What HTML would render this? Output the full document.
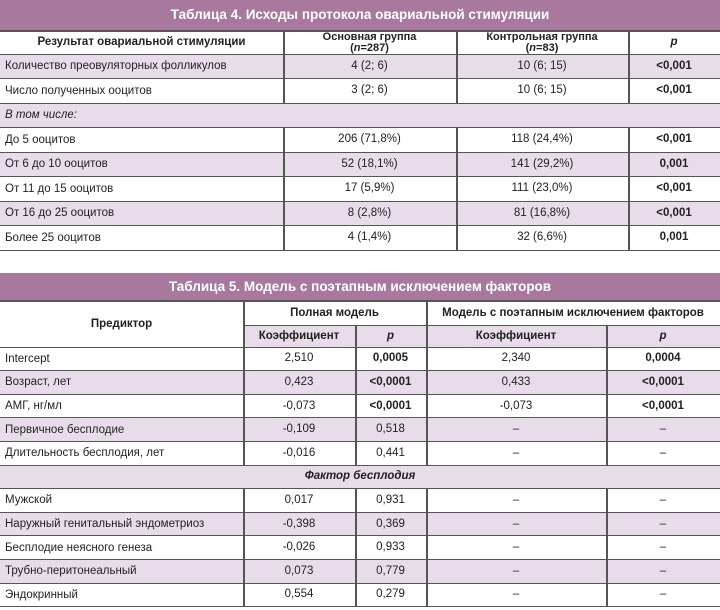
<!DOCTYPE html>
<html><head><meta charset="utf-8"><style>
body{margin:0;width:720px;height:610px;background:#fff;font-family:"Liberation Sans","DejaVu Sans",sans-serif;font-size:11.5px;color:#222;position:relative;overflow:hidden}
.a{position:absolute;box-sizing:border-box}
.band{background:#a8789f;color:#fff;font-weight:bold;font-size:13.5px;text-align:center;left:0;width:720px}
.c{display:flex;align-items:center;justify-content:center;text-align:center;line-height:1.1}
.l{display:flex;align-items:center;padding-left:5px}
.b{font-weight:bold}
.hd{font-size:11px;line-height:1.0}
.hl{position:absolute;left:0;width:720px;height:1px;background:#555}
.vl{position:absolute;width:1.5px;background:#555}
.lav{position:absolute;left:0;width:720px;background:#e8dcea}
</style></head><body>
<script>
function add(h){document.body.insertAdjacentHTML('beforeend',h)}
function cell(cls,l,w,t,h,txt){add('<div class="a c'+cls+'" style="left:'+l+'px;width:'+w+'px;top:'+t+'px;height:'+h+'px"><span>'+txt+'</span></div>')}
// ---- Table 4
add('<div class="a band" style="top:0;height:30px;line-height:30px">Таблица 4. Исходы протокола овариальной стимуляции</div>');
var x4=[0,283,456,628,720];
var top4=54,rh4=24.5;
var rows4=[["Количество преовуляторных фолликулов","4 (2; 6)","10 (6; 15)","<0,001"],
["Число полученных ооцитов","3 (2; 6)","10 (6; 15)","<0,001"],
["В том числе:"],
["До 5 ооцитов","206 (71,8%)","118 (24,4%)","<0,001"],
["От 6 до 10 ооцитов","52 (18,1%)","141 (29,2%)","0,001"],
["От 11 до 15 ооцитов","17 (5,9%)","111 (23,0%)","<0,001"],
["От 16 до 25 ооцитов","8 (2,8%)","81 (16,8%)","<0,001"],
["Более 25 ооцитов","4 (1,4%)","32 (6,6%)","0,001"]];
for(var i=0;i<8;i++){var y=top4+i*rh4;if(i%2==0)add('<div class="lav" style="top:'+y+'px;height:'+rh4+'px"></div>');}
cell(' b',0,283,31,23,'Результат овариальной стимуляции');
cell(' b hd',283,173,31,23,'Основная группа<br>(<i>n</i>=287)');
cell(' b hd',456,172,31,23,'Контрольная группа<br>(<i>n</i>=83)');
cell(' b',628,92,31,23,'<i>p</i>');
for(var i=0;i<8;i++){var y=top4+i*rh4,r=rows4[i];
 if(r.length==1){add('<div class="a l" style="left:0;top:'+y+'px;height:'+rh4+'px"><i>'+r[0]+'</i></div>');continue;}
 add('<div class="a l" style="left:0;top:'+y+'px;height:'+rh4+'px">'+r[0]+'</div>');
 for(var j=1;j<4;j++)cell(j==3?' b':'',x4[j],x4[j+1]-x4[j],y,rh4,r[j].replace('<','&lt;'));}
for(var i=0;i<=8;i++)add('<div class="hl" style="top:'+(top4+i*rh4-0.5)+'px"></div>');
add('<div class="hl" style="top:30px;height:2px"></div>');
for(var j=1;j<4;j++){
 add('<div class="vl" style="left:'+x4[j]+'px;top:30px;height:'+(top4+2*rh4-30)+'px"></div>');
 add('<div class="vl" style="left:'+x4[j]+'px;top:'+(top4+3*rh4)+'px;height:'+(5*rh4)+'px"></div>');}
// ---- Table 5
add('<div class="a band" style="top:273px;height:28px;line-height:28px">Таблица 5. Модель с поэтапным исключением факторов</div>');
var x5=[0,243,355,426,606,720];
var top5=347,rh5=23.6;
add('<div class="lav" style="top:325px;height:22px;left:243px;width:477px"></div>');
var rows5=[["Intercept","2,510","0,0005","2,340","0,0004"],
["Возраст, лет","0,423","<0,0001","0,433","<0,0001"],
["АМГ, нг/мл","-0,073","<0,0001","-0,073","<0,0001"],
["Первичное бесплодие","-0,109","0,518","–","–"],
["Длительность бесплодия, лет","-0,016","0,441","–","–"],
["Фактор бесплодия"],
["Мужской","0,017","0,931","–","–"],
["Наружный генитальный эндометриоз","-0,398","0,369","–","–"],
["Бесплодие неясного генеза","-0,026","0,933","–","–"],
["Трубно-перитонеальный","0,073","0,779","–","–"],
["Эндокринный","0,554","0,279","–","–"]];
for(var i=0;i<11;i++){var y=top5+i*rh5;if(i%2==1)add('<div class="lav" style="top:'+y+'px;height:'+rh5+'px"></div>');}
cell(' b',0,243,301,46,'Предиктор');
cell(' b',243,183,301,24,'Полная модель');
cell(' b',426,294,301,24,'Модель с поэтапным исключением факторов');
cell(' b',243,112,325,22,'Коэффициент');
cell(' b',355,71,325,22,'<i>p</i>');
cell(' b',426,180,325,22,'Коэффициент');
cell(' b',606,114,325,22,'<i>p</i>');
for(var i=0;i<11;i++){var y=top5+i*rh5,r=rows5[i];
 if(r.length==1){cell(' b',0,720,y,rh5,'<i>'+r[0]+'</i>');continue;}
 add('<div class="a l" style="left:0;top:'+y+'px;height:'+rh5+'px">'+r[0]+'</div>');
 for(var j=1;j<5;j++)cell(((j==2||j==4)&&i<3)?' b':'',x5[j],x5[j+1]-x5[j],y,rh5,r[j].replace('<','&lt;'));}
add('<div class="hl" style="top:300px;height:2px"></div>');
add('<div class="hl" style="top:325px;left:243px;width:477px"></div>');
for(var i=0;i<=11;i++)add('<div class="hl" style="top:'+(top5+i*rh5-0.5)+'px"></div>');
var bot=top5+11*rh5, fy=top5+5*rh5;
add('<div class="vl" style="left:243px;top:301px;height:'+(fy-301)+'px"></div>');
add('<div class="vl" style="left:426px;top:301px;height:'+(fy-301)+'px"></div>');
add('<div class="vl" style="left:355px;top:325px;height:'+(fy-325)+'px"></div>');
add('<div class="vl" style="left:606px;top:325px;height:'+(fy-325)+'px"></div>');
for(var k of [243,355,426,606])add('<div class="vl" style="left:'+k+'px;top:'+(fy+rh5)+'px;height:'+(bot-fy-rh5)+'px"></div>');
</script>
</body></html>
